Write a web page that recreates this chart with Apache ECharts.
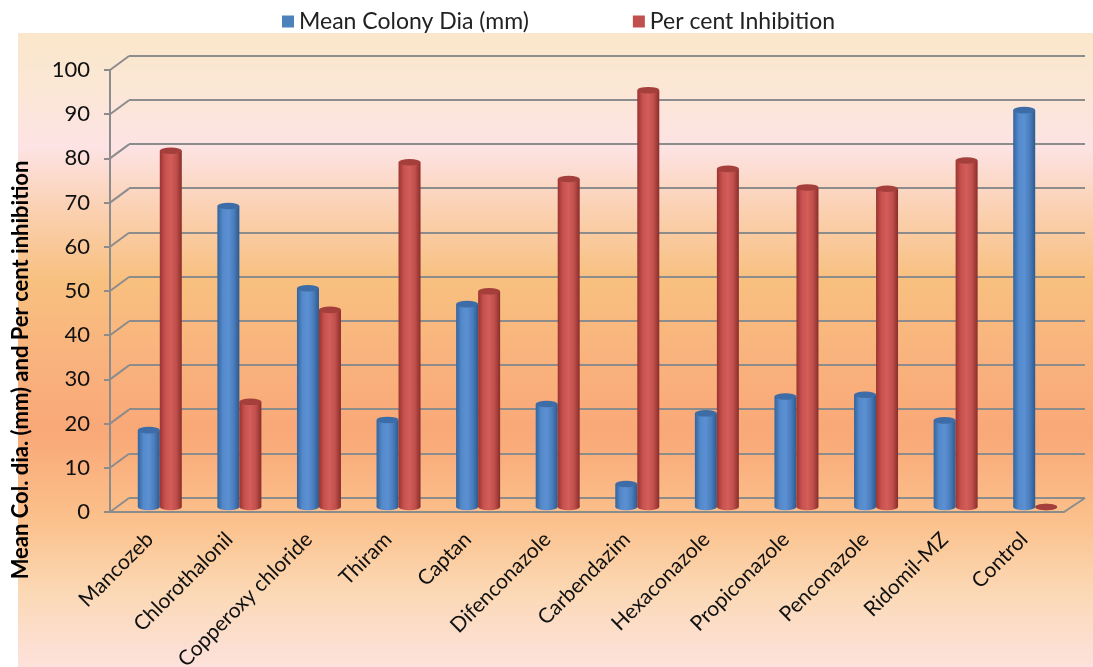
<!DOCTYPE html>
<html lang="en">
<head>
    <meta charset="utf-8">
    <title>Mean colony dia and per cent inhibition</title>
    <style>
        html, body { margin: 0; padding: 0; background: #fff; }
        #id-main-area { width: 1093px; height: 667px; }
    </style>
</head>
<body>
<div id="id-main-area"></div>
<script src="https://cdn.jsdelivr.net/npm/echarts@6/dist/echarts.min.js"></script>
<script>
    var fungicides = ['Mancozeb', 'Chlorothalonil', 'Copperoxy chloride', 'Thiram', 'Captan', 'Difenconazole',
        'Carbendazim', 'Hexaconazole', 'Propiconazole', 'Penconazole', 'Ridomil-MZ', 'Control']
    var colonyDia = [17.4, 68.1, 49.5, 19.7, 45.9, 23.3, 5.2, 21.2, 25.0, 25.4, 19.6, 89.8]
    var inhibition = [80.6, 23.8, 44.6, 78.0, 48.8, 74.2, 94.3, 76.5, 72.3, 72.0, 78.4, 0]
    var yTicks = [0, 10, 20, 30, 40, 50, 60, 70, 80, 90, 100]

    var font = 'Lato'
    var gridGray = '#8c8c8c'

    var cylinder = (stops) => {
        return new echarts.graphic.LinearGradient(0, 0, 1, 0, stops.map((c, i) => {
            return { offset: i / (stops.length - 1), color: c }
        }))
    }
    var blueBody = ['#33649c', '#5489cb', '#5b90d2', '#4a7dbd', '#2d5a8e']
    var redBody = ['#993431', '#c9524f', '#d25d59', '#c04f4b', '#8a2d2b']

    // ellipse caps so the bars look like cylinders
    var capRenderer = (shift, topColor, body) => {
        return (params, api) => {
            var top = api.coord([api.value(0), api.value(1)])
            var base = api.coord([api.value(0), 0])
            return {
                type: 'group',
                children: [
                    {
                        type: 'circle', shape: { cx: 0, cy: 0, r: 11 },
                        x: base[0] + shift, y: base[1], scaleY: 0.3,
                        style: { fill: cylinder(body) }
                    },
                    {
                        type: 'circle', shape: { cx: 0, cy: 0, r: 11 },
                        x: top[0] + shift, y: top[1], scaleY: 0.3,
                        style: { fill: topColor }
                    },
                ]
            }
        }
    }

    // diagonal edges of the side wall and floor
    var wallRenderer = (params, api) => {
        var cs = params.coordSys
        var v = api.value(1)
        var y = api.coord([0, v])[1]
        var lines = [{
            type: 'line',
            shape: { x1: cs.x, y1: y, x2: cs.x + 19, y2: y - 14 },
            style: { stroke: gridGray, lineWidth: 2 }
        }]
        if (v === 0) {
            lines.push({
                type: 'line',
                shape: { x1: cs.x + cs.width, y1: y, x2: cs.x + cs.width + 21, y2: y - 14 },
                style: { stroke: gridGray, lineWidth: 2 }
            })
        }
        return { type: 'group', children: lines }
    }

    var showChart = () => {
        var element = document.querySelector('#id-main-area')
        var myChart = echarts.init(element)
        var option = {
            animation: false,
            textStyle: { fontFamily: font },
            graphic: [
                {
                    type: 'rect', z: -100,
                    shape: { x: 18, y: 33, width: 1075, height: 634 },
                    style: {
                        fill: new echarts.graphic.LinearGradient(0, 0, 0, 1, [
                            { offset: 0, color: '#fae7cb' },
                            { offset: 0.08, color: '#fbe7d4' },
                            { offset: 0.18, color: '#fde3e4' },
                            { offset: 0.27, color: '#fbd2b6' },
                            { offset: 0.39, color: '#f8c07f' },
                            { offset: 0.52, color: '#f9b27d' },
                            { offset: 0.63, color: '#f9a877' },
                            { offset: 0.77, color: '#fbc18c' },
                            { offset: 0.88, color: '#fbd8b4' },
                            { offset: 1, color: '#fde2dc' },
                        ])
                    }
                },
                {
                    type: 'text', x: 21, y: 370, rotation: Math.PI / 2,
                    style: {
                        text: 'Mean Col. dia. (mm) and Per cent inhibition',
                        fontFamily: font, fontSize: 22, fontWeight: 'bold', fill: '#000',
                        align: 'center', verticalAlign: 'middle'
                    }
                }
            ],
            legend: {
                top: 5,
                left: 277,
                itemWidth: 12,
                itemHeight: 12,
                itemGap: 104,
                icon: 'rect',
                textStyle: { fontFamily: font, fontSize: 23, color: '#222' },
                data: [
                    { name: 'Mean Colony Dia (mm)', itemStyle: { color: '#4f81bd' } },
                    { name: 'Per cent Inhibition', itemStyle: { color: '#c0504d' } },
                ]
            },
            grid: [
                { left: 110, right: 29, top: 70, bottom: 155, outerBoundsMode: 'none' },
                { left: 129, right: 8, top: 55.5, bottom: 169.5, outerBoundsMode: 'none' },
                { left: 120, right: 18, top: 65, bottom: 160, outerBoundsMode: 'none' },
            ],
            xAxis: [
                {
                    gridIndex: 0, type: 'category', data: fungicides,
                    axisLine: { lineStyle: { color: gridGray, width: 2 } },
                    axisTick: { length: 7, lineStyle: { color: gridGray, width: 2 } },
                    axisLabel: { rotate: 45, margin: 24, fontSize: 21, color: '#111', fontFamily: font, interval: 0 },
                },
                {
                    gridIndex: 1, type: 'category', data: fungicides,
                    axisLine: { show: false }, axisTick: { show: false }, axisLabel: { show: false },
                },
                {
                    gridIndex: 2, type: 'category', data: fungicides,
                    axisLine: { show: false }, axisTick: { show: false }, axisLabel: { show: false },
                },
            ],
            yAxis: [
                {
                    gridIndex: 0, type: 'value', min: 0, max: 100, interval: 10,
                    axisLine: { show: true, lineStyle: { color: gridGray, width: 2 } },
                    axisTick: { show: true, length: 6, lineStyle: { color: gridGray, width: 2 } },
                    axisLabel: { margin: 20, fontSize: 22, color: '#111', fontFamily: font },
                    splitLine: { show: false },
                },
                {
                    gridIndex: 1, type: 'value', min: 0, max: 100, interval: 10,
                    axisLine: { show: false }, axisTick: { show: false }, axisLabel: { show: false },
                    splitLine: { show: true, lineStyle: { color: gridGray, width: 2 } },
                },
                {
                    gridIndex: 2, type: 'value', min: 0, max: 100, interval: 10,
                    axisLine: { show: false }, axisTick: { show: false }, axisLabel: { show: false },
                    splitLine: { show: false },
                },
            ],
            series: [
                {
                    type: 'custom', xAxisIndex: 0, yAxisIndex: 0, silent: true,
                    renderItem: wallRenderer,
                    data: yTicks.map((v) => [0, v]),
                },
                {
                    name: 'Mean Colony Dia (mm)', type: 'bar', xAxisIndex: 2, yAxisIndex: 2,
                    barWidth: 22, barGap: '0%', z: 3,
                    itemStyle: { color: cylinder(blueBody) },
                    data: colonyDia,
                },
                {
                    name: 'Per cent Inhibition', type: 'bar', xAxisIndex: 2, yAxisIndex: 2,
                    barWidth: 22, barGap: '0%', z: 3,
                    itemStyle: { color: cylinder(redBody) },
                    data: inhibition,
                },
                {
                    type: 'custom', xAxisIndex: 2, yAxisIndex: 2, z: 4, silent: true,
                    renderItem: capRenderer(-11, '#3d6ca6', blueBody),
                    data: colonyDia.map((v, i) => [i, v]),
                },
                {
                    type: 'custom', xAxisIndex: 2, yAxisIndex: 2, z: 4, silent: true,
                    renderItem: capRenderer(11, '#a43f3c', redBody),
                    data: inhibition.map((v, i) => [i, v]),
                },
            ]
        }
        myChart.setOption(option)
    }

    var __main = () => {
        showChart()
    }

    __main()
</script>
</body>
</html>
